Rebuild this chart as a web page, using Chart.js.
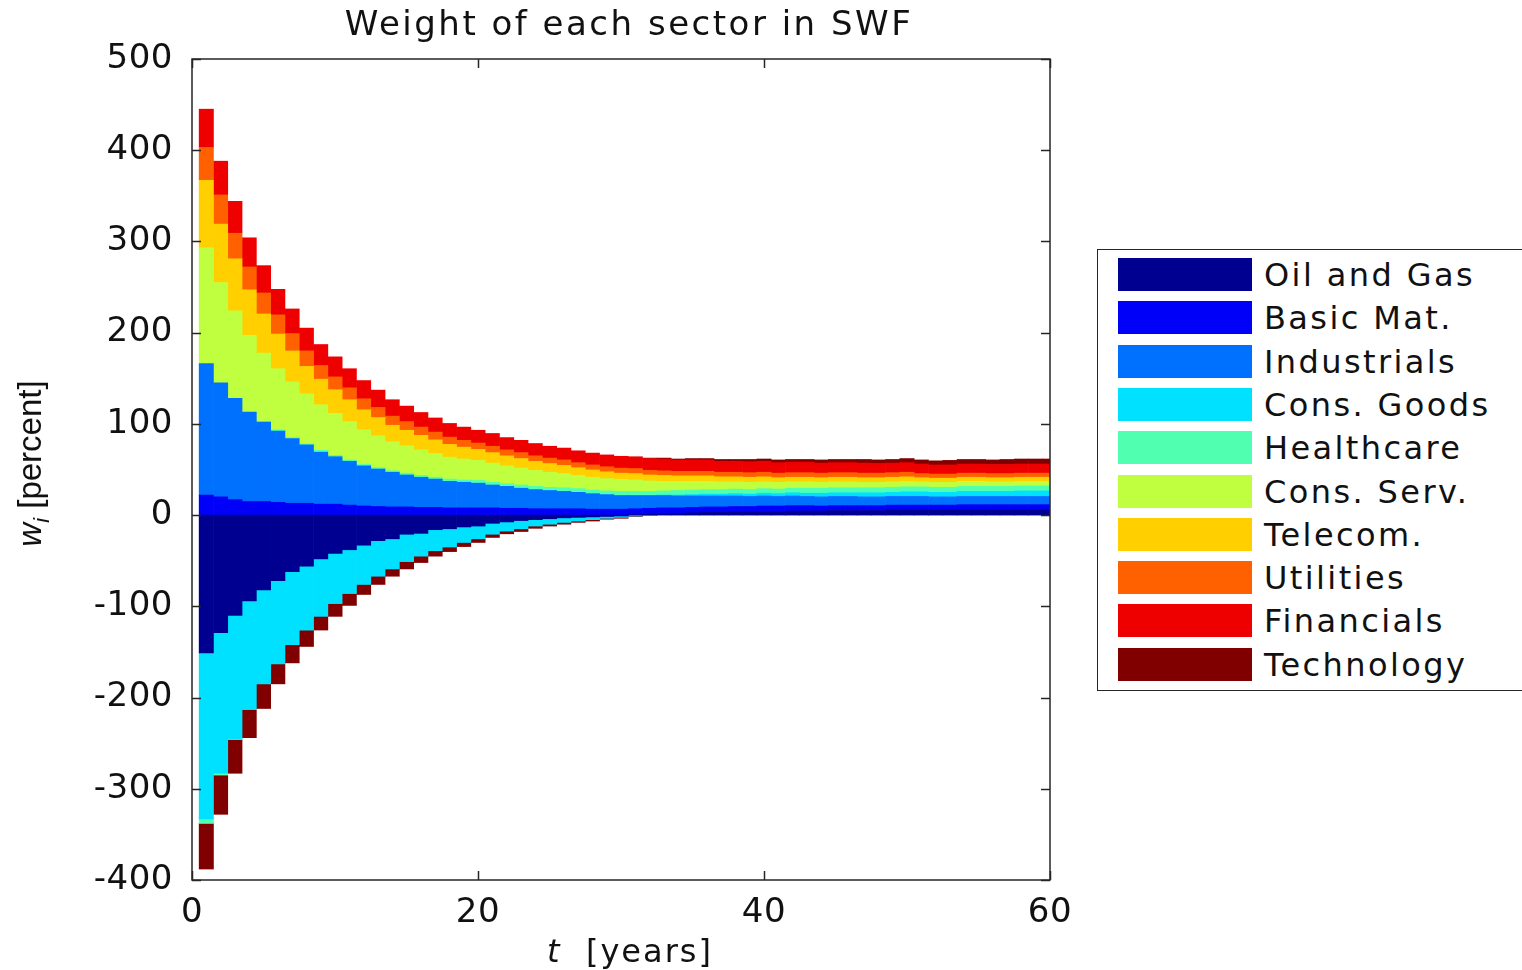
<!DOCTYPE html>
<html>
<head>
<meta charset="utf-8">
<title>Weight of each sector in SWF</title>
<script src="https://cdn.jsdelivr.net/npm/chart.js@4.4.1/dist/chart.umd.min.js"></script>
<style>
    html, body {
        margin: 0;
        padding: 0;
        background: #fff;
        overflow: hidden;
    }
    #wrap {
        position: relative;
        width: 1522px;
        height: 970px;
    }
    #chart {
        position: absolute;
        left: 0;
        top: 0;
    }
    #legend {
        position: absolute;
        left: 1097px;
        top: 249px;
        width: 460px;
        height: 442px;
        box-sizing: border-box;
        border: 1.5px solid #262626;
        background: #fff;
    }
    .legend-swatch {
        position: absolute;
        left: 20px;
        width: 134px;
        height: 33px;
    }
    .legend-text {
        position: absolute;
        left: 166px;
        height: 33px;
        line-height: 33px;
        font-family: "DejaVu Sans", sans-serif;
        font-size: 32px;
        letter-spacing: 2.4px;
        color: #111;
        white-space: nowrap;
        margin-top: 1px;
    }
</style>
</head>
<body>
<div id="wrap">
    <canvas id="chart" width="1522" height="970"></canvas>
    <div id="legend"></div>
</div>
<script>
// Years on the x axis (one stacked bar per year)
const years = [
    1, 2, 3, 4, 5, 6, 7, 8, 9, 10,
    11, 12, 13, 14, 15, 16, 17, 18, 19, 20,
    21, 22, 23, 24, 25, 26, 27, 28, 29, 30,
    31, 32, 33, 34, 35, 36, 37, 38, 39, 40,
    41, 42, 43, 44, 45, 46, 47, 48, 49, 50,
    51, 52, 53, 54, 55, 56, 57, 58, 59, 60
];

const sectors = ['Oil and Gas', 'Basic Mat.', 'Industrials', 'Cons. Goods', 'Healthcare',
    'Cons. Serv.', 'Telecom.', 'Utilities', 'Financials', 'Technology'];

const sectorColors = ['#000090', '#0000F8', '#0070FF', '#00E0FF', '#50FFB0',
    '#BFFF40', '#FFCF00', '#FF6000', '#EF0000', '#800000'];

// Weights in percent
const oilGas = [
    -151, -129, -110, -94, -82, -72, -62, -56, -48, -42,
    -38, -33, -28, -26, -21, -20, -16, -15, -13, -12,
    -9, -7.5, -6, -5, -4, -3, -2.5, -2, -1.5, -1,
    0.5, 1, 1.5, 2, 2.5, 3, 3, 3.5, 3.5, 4,
    4, 4.5, 4.5, 4.5, 5, 5, 5, 5, 5.5, 5.5,
    5.5, 5.5, 5.5, 6, 6, 6, 6, 6, 6, 6
];
const basicMat = [
    22, 20, 17, 15, 15, 14, 13, 13, 12, 12,
    11, 10, 9.5, 9, 9, 8.5, 8.5, 8, 8, 8,
    8, 7.5, 7.5, 7, 7, 7, 7, 6.5, 6.5, 6.5,
    6.5, 6.5, 6.5, 6, 6, 6, 6, 6, 6, 6,
    6, 6, 6, 5.5, 5.5, 5.5, 5.5, 5.5, 5.5, 5.5,
    5.5, 5.5, 5.5, 5.5, 5.5, 5.5, 5.5, 5.5, 5.5, 5.5
];
const industrials = [
    144, 125, 111, 98, 87, 78, 71, 64, 57, 52,
    48, 44, 41, 38, 35, 33, 31, 29, 28, 27,
    25, 24, 22, 21, 20, 19, 18, 17, 16, 15,
    14.5, 14, 13.5, 13, 12.5, 12, 12, 11.5, 11, 11,
    10.5, 10.5, 10, 10, 10, 10, 9.5, 9.5, 9.5, 9.5,
    9.5, 9, 9, 9, 9, 9, 9, 9, 9, 9
];
const consGoods = [
    -182, -154, -135, -119, -103, -91, -80, -70, -63, -55,
    -48, -43, -39, -33, -30, -25, -23, -20, -17, -14,
    -12, -10, -9, -7, -6, -5, -4, -3, -2, -1.5,
    -1, -0.5, 0.5, 1, 1.5, 2, 2, 2.5, 2.5, 3,
    3, 3.5, 3.5, 4, 4, 4, 4.5, 4.5, 4.5, 5,
    5, 5, 5, 5.5, 5.5, 5.5, 5.5, 6, 6, 6
];
const healthcare = [
    -5, -2, -1, 0, 0.5, 1.5, 1, 1, 2, 1.5,
    1.5, 1.5, 1.5, 1.5, 2, 2, 2, 2.5, 2.5, 3,
    3, 3, 3.5, 3.5, 3.5, 4, 4, 4, 4, 4.5,
    4.5, 4.5, 4.5, 5, 5, 5, 5, 5, 5, 5,
    5, 5, 5.5, 5.5, 5.5, 5.5, 5.5, 5.5, 5.5, 5.5,
    5.5, 5.5, 5.5, 5.5, 5.5, 5.5, 5.5, 5.5, 5.5, 5.5
];
const consServ = [
    127, 110, 96, 84, 75, 67, 61, 55, 50, 46,
    42, 38, 35, 32, 30, 28, 26, 24, 23, 22,
    21, 19.5, 18.5, 17.5, 16.5, 15.5, 14.5, 14, 13.5, 13,
    12.5, 11.5, 10.5, 10, 9.5, 9, 8.5, 8, 8, 7.5,
    7.5, 7, 7, 6.5, 6.5, 6.5, 6, 6, 6, 6,
    5.5, 5.5, 5.5, 5.5, 5.5, 5, 5, 5, 5, 5
];
const telecom = [
    74, 64, 57, 50, 43, 38, 34, 30, 28, 26,
    24, 22, 20, 18, 17, 16, 15, 14, 13, 12,
    11.5, 11, 10.5, 10, 9.5, 9, 8.5, 8, 7.5, 7,
    7, 6.5, 6.5, 6, 6, 6, 5.5, 5.5, 5.5, 5.5,
    5, 5, 5, 5, 5, 5, 5, 5, 5, 5,
    4.5, 4.5, 4.5, 4.5, 4.5, 4.5, 4.5, 4.5, 4.5, 4.5
];
const utilities = [
    36, 32, 28, 25, 23, 21, 19, 17, 15, 14,
    13, 12, 11, 10, 9.5, 9, 8.5, 8, 7.5, 7,
    7, 6.5, 6.5, 6, 6, 6, 5.5, 5.5, 5.5, 5.5,
    5.5, 5, 5, 5, 5, 5, 5, 5, 5, 5,
    5, 5, 5, 5, 5, 5, 5, 5, 5, 5,
    4.5, 4.5, 4.5, 4.5, 4.5, 4.5, 4.5, 4.5, 4.5, 4.5
];
const financials = [
    42, 37, 35, 32, 30, 28, 27, 25, 23, 22,
    21, 20, 19, 18, 17, 16, 15.5, 15, 14.5, 14,
    14, 13.5, 13.5, 13.5, 13, 13, 13, 13, 13, 13,
    13, 13, 13, 12.5, 12.5, 12.5, 12, 12, 12, 12,
    11.5, 11.5, 11.5, 11, 11, 11, 11, 10.5, 10.5, 10.5,
    10.5, 10, 10, 10, 10, 10, 10, 10, 10, 10
];
const technology = [
    -50, -43, -37, -31, -27, -22, -20, -18, -15, -14,
    -13, -11, -9, -8, -8, -7, -6, -5, -4.5, -4,
    -3.5, -3, -3, -2.5, -2, -2, -1.5, -1.5, -1, -1,
    -0.5, 0.5, 1, 1, 1.5, 1.5, 2, 2, 2.5, 2.5,
    3, 3, 3, 3.5, 3.5, 3.5, 4, 4, 4, 4.5,
    4.5, 4.5, 5, 5, 5, 5, 5.5, 5.5, 5.5, 5.5
];

const sectorValues = [oilGas, basicMat, industrials, consGoods, healthcare,
    consServ, telecom, utilities, financials, technology];

// Axis ticks
const xTicks = [0, 20, 40, 60];
const yTicks = [-400, -300, -200, -100, 0, 100, 200, 300, 400, 500];

const chartTitle = 'Weight of each sector in SWF';
const FONT = '"DejaVu Sans", sans-serif';

// Box around the plot, inward tick marks, title and axis titles
const matlabFrame = {
    id: 'matlabFrame',
    beforeDraw(chart) {
        chart.ctx.letterSpacing = '0.5px';
    },
    afterDraw(chart) {
        const { ctx, chartArea: a, scales: { x, y } } = chart;
        ctx.save();
        ctx.letterSpacing = '0px';
        ctx.strokeStyle = '#262626';
        ctx.lineWidth = 1.5;
        ctx.strokeRect(a.left, a.top, a.right - a.left, a.bottom - a.top);

        ctx.beginPath();
        y.ticks.forEach(t => {
            const py = Math.round(y.getPixelForValue(t.value)) + 0.5;
            ctx.moveTo(a.left, py); ctx.lineTo(a.left + 9, py);
            ctx.moveTo(a.right, py); ctx.lineTo(a.right - 9, py);
        });
        x.ticks.forEach(t => {
            const px = Math.round(x.getPixelForValue(t.value)) + 0.5;
            ctx.moveTo(px, a.bottom); ctx.lineTo(px, a.bottom - 9);
            ctx.moveTo(px, a.top); ctx.lineTo(px, a.top + 9);
        });
        ctx.stroke();

        ctx.fillStyle = '#111';
        ctx.textBaseline = 'alphabetic';

        // Title
        ctx.letterSpacing = '2.5px';
        ctx.textAlign = 'center';
        ctx.font = '34px ' + FONT;
        ctx.fillText(chartTitle, (a.left + a.right) / 2 + 8, 35);

        // x title: italic t, then [years]
        ctx.textAlign = 'left';
        ctx.letterSpacing = '2px';
        const fItal = 'italic 32px ' + FONT;
        const fNorm = '32px ' + FONT;
        ctx.font = fItal;
        const wT = ctx.measureText('t').width;
        ctx.font = fNorm;
        const wRest = ctx.measureText('  [years]').width;
        let sx = (a.left + a.right) / 2 + 9 - (wT + wRest) / 2;
        ctx.font = fItal;
        ctx.fillText('t', sx, 962);
        ctx.font = fNorm;
        ctx.fillText('  [years]', sx + wT, 962);

        // y title: w with subscript i, then [percent]
        ctx.letterSpacing = '0px';
        ctx.translate(30, (a.top + a.bottom) / 2 - 6);
        ctx.rotate(-Math.PI / 2);
        const yW = 'italic 33px "Liberation Sans", Arial, sans-serif';
        const ySub = 'italic 22px "Liberation Sans", Arial, sans-serif';
        const yNorm = '33px "Liberation Sans", Arial, sans-serif';
        ctx.font = yW;
        const ww = ctx.measureText('w').width;
        ctx.font = ySub;
        const wi = ctx.measureText('i').width;
        ctx.font = yNorm;
        const wp = ctx.measureText(' [percent]').width;
        let tx = -(ww + wi + wp) / 2;
        ctx.font = yW;
        ctx.fillText('w', tx, 11);
        ctx.font = ySub;
        ctx.fillText('i', tx + ww, 19);
        ctx.font = yNorm;
        ctx.fillText(' [percent]', tx + ww + wi, 11);
        ctx.restore();
    }
};

function buildLegend() {
    const legend = document.getElementById('legend');
    sectors.forEach((name, i) => {
        const top = 8 + i * 43.3;
        const sw = document.createElement('div');
        sw.className = 'legend-swatch';
        sw.style.top = top + 'px';
        sw.style.background = sectorColors[i];
        legend.appendChild(sw);

        const label = document.createElement('div');
        label.className = 'legend-text';
        label.style.top = top + 'px';
        label.textContent = name;
        legend.appendChild(label);
    });
}

function initChart() {
    const ctx = document.getElementById('chart').getContext('2d');

    const datasets = sectors.map((name, i) => ({
        label: name,
        data: sectorValues[i],
        backgroundColor: sectorColors[i],
        borderWidth: 0,
        barPercentage: 1,
        categoryPercentage: 1
    }));

    new Chart(ctx, {
        type: 'bar',
        data: {
            labels: years,
            datasets: datasets
        },
        options: {
            responsive: false,
            animation: false,
            events: [],
            layout: {
                padding: { left: 0, right: 472, top: 59, bottom: 0 }
            },
            plugins: {
                legend: { display: false },
                tooltip: { enabled: false },
                title: { display: false }
            },
            scales: {
                x: {
                    type: 'linear',
                    stacked: true,
                    offset: false,
                    min: 0,
                    max: 60,
                    afterBuildTicks(scale) {
                        scale.ticks = xTicks.map(v => ({ value: v }));
                    },
                    afterFit(scale) {
                        scale.height = 90;
                    },
                    grid: { display: false },
                    border: { display: false },
                    ticks: {
                        color: '#111',
                        padding: 5,
                        maxRotation: 0,
                        font: { family: FONT, size: 34 }
                    }
                },
                y: {
                    stacked: true,
                    min: -400,
                    max: 500,
                    afterBuildTicks(scale) {
                        scale.ticks = yTicks.map(v => ({ value: v }));
                    },
                    afterFit(scale) {
                        scale.width = 192;
                    },
                    grid: { display: false },
                    border: { display: false },
                    ticks: {
                        color: '#111',
                        padding: 11,
                        font: { family: FONT, size: 34 }
                    }
                }
            }
        },
        plugins: [matlabFrame]
    });
}

document.addEventListener('DOMContentLoaded', function() {
    buildLegend();
    initChart();
});
</script>
</body>
</html>
